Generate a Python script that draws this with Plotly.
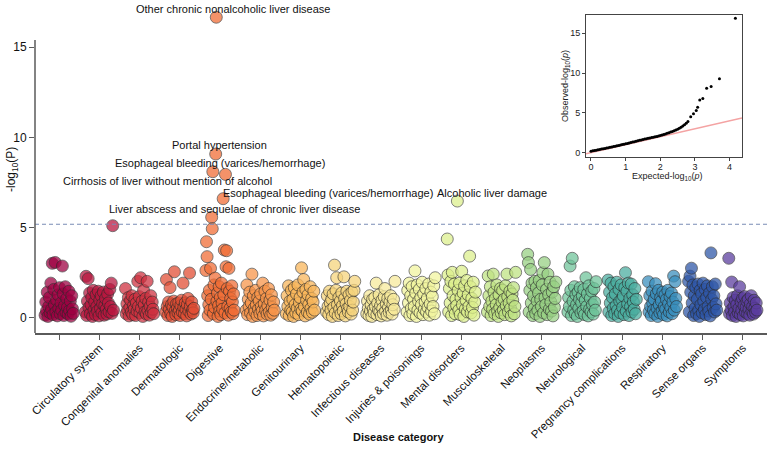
import plotly.graph_objects as go

# ---------------- data ----------------
tick_labels = ["", "Circulatory system", "Congenital anomalies", "Dermatologic", "Digestive",
               "Endocrine/metabolic", "Genitourinary", "Hematopoietic", "Infectious diseases",
               "Injuries & poisonings", "Mental disorders", "Musculoskeletal", "Neoplasms",
               "Neurological", "Pregnancy complications", "Respiratory", "Sense organs", "Symptoms"]

colors = ["#9E0142", "#B8173F", "#CF3140", "#E24E34", "#F16D35", "#F8954A", "#F9B65A", "#F6D47C",
          "#F8EA9A", "#F2F59F", "#DDF08D", "#BFE383", "#98D184", "#6FC49A", "#4BAEA0", "#3A8FBD",
          "#2F57A8", "#5B3D9F"]

vals_unlabelled = [0.12,0.85,0.35,1.4,0.05,0.6,1.1,0.25,1.9,0.45,3.0,0.15,1.55,0.7,3.05,0.3,0.95,0.08,1.25,0.5,
                   1.65,0.2,0.8,0.4,2.85,1.3,0.1,0.65,1.7,0.28,1.05,0.55,0.18,1.45,0.38,0.9,0.06,1.2,0.48,0.22]
vals_circulatory = [0.3,2.28,0.1,0.9,2.15,0.55,1.35,0.2,0.7,1.1,0.05,1.5,0.4,0.85,0.15,1.25,0.6,0.35,1.45,0.08,
                    0.95,0.5,1.2,0.25,0.75,1.4,0.12,0.65,1.05,0.45,0.18,1.3,0.8,0.3,1.55,0.6,1.9,0.22,5.09,0.4]
vals_congenital = [1.6,0.2,0.75,0.4,1.1,0.08,0.55,0.95,0.3,1.2,0.15,0.65,0.45,1.0,0.1,0.8,0.35,2.0,0.6,1.15,
                   0.25,2.2,0.5,0.9,0.05,1.5,0.7,0.3,1.05,0.18,2.0,0.4,0.85,0.12,0.6,1.2,0.28,0.85,0.45,0.2]
vals_dermatologic = [0.3,2.1,0.6,0.1,0.85,0.45,1.65,0.2,0.7,0.05,0.55,0.9,2.53,0.35,0.15,0.75,0.5,0.25,0.8,0.4,
                     0.1,0.65,0.95,0.3,1.9,0.55,0.2,0.8,0.45,0.08,0.7,1.05,0.35,2.46,0.6,0.18,0.85,0.4,0.25,0.5]
vals_digestive = [2.6,4.2,3.37,1.2,0.1,0.7,1.5,0.4,2.72,1.0,5.56,4.92,8.09,0.2,1.8,0.55,2.18,9.07,16.67,0.9,
                  1.35,0.05,0.65,1.7,0.35,1.1,0.15,1.9,0.8,0.45,6.59,1.25,3.74,0.25,7.94,2.81,3.7,1.6,0.6,0.12,
                  2.72,1.45,0.5,1.05,0.3,1.75,0.85,0.2,1.3,0.4]
vals_endocrine = [0.4,1.8,0.15,1.0,0.6,1.4,0.25,0.8,2.4,0.05,1.2,0.5,0.3,1.5,0.7,0.1,1.1,0.45,0.9,0.2,
                  1.3,0.6,0.35,1.9,0.08,0.75,1.45,0.4,1.05,0.18,0.65,1.6,0.3,0.95,0.12,1.25,0.55,0.22,0.85,0.4]
vals_genitourinary = [0.2,1.2,0.6,1.75,0.1,0.9,0.4,1.5,0.3,1.0,0.05,1.65,0.7,0.25,1.3,0.5,1.8,0.15,0.8,1.1,
                      0.45,2.75,0.35,1.4,2.1,0.6,0.08,1.55,0.95,0.3,1.25,0.7,0.18,1.7,0.5,1.05,0.28,0.85,1.45,0.4]
vals_hematopoietic = [0.3,1.2,0.6,0.15,1.45,0.8,0.4,1.0,0.05,1.3,0.55,2.9,0.25,1.5,2.2,0.7,0.1,1.1,0.45,0.9,
                      0.2,1.35,0.65,0.35,2.25,1.05,0.08,0.75,1.45,0.5,0.3,1.25,0.6,0.95,0.18,1.4,0.4,0.85,1.5,2.0]
vals_infectious = [0.2,0.9,0.5,0.1,1.2,0.35,0.7,0.05,1.0,0.45,0.25,1.1,0.6,1.9,0.15,0.8,0.4,1.25,0.3,0.65,
                   0.08,0.95,0.5,0.2,1.15,1.6,0.35,0.75,0.12,1.05,0.55,0.28,0.85,1.2,0.4,0.18,0.7,1.0,0.45,2.0]
vals_injuries = [0.3,1.5,0.8,1.9,0.1,1.2,0.5,1.7,0.2,1.0,0.6,2.58,1.35,0.05,1.8,0.4,0.9,1.55,0.25,1.1,
                 0.7,1.95,0.15,1.3,0.45,0.85,1.6,0.3,1.05,0.55,1.85,0.12,0.75,1.4,0.35,1.15,0.6,1.75,0.2,2.2]
vals_mental = [4.35,2.35,0.3,1.6,0.8,2.0,0.1,2.5,1.2,0.5,1.85,0.2,1.0,0.65,6.46,1.5,0.4,1.9,0.15,1.1,
               2.56,0.7,1.35,0.05,1.75,0.45,0.95,2.05,0.3,1.25,0.6,3.4,1.7,0.25,1.05,0.55,1.95,0.12,0.85,1.4]
vals_musculoskeletal = [0.3,2.3,1.2,0.6,1.7,0.1,0.9,0.45,2.4,1.4,0.2,1.05,0.7,1.8,0.35,0.05,1.25,0.55,1.6,0.25,
                        0.85,1.5,0.4,1.0,0.15,1.75,0.65,2.4,1.15,0.3,0.8,1.45,0.5,0.08,1.3,0.95,1.65,0.2,0.6,2.5]
vals_neoplasms = [3.5,3.04,0.3,1.5,2.66,0.8,1.9,0.1,1.2,0.5,2.0,0.2,1.65,0.9,0.4,1.35,2.05,0.05,1.0,0.6,
                  1.8,2.48,0.25,3.04,1.1,0.7,1.55,0.15,2.4,1.25,0.45,1.95,0.85,0.35,1.4,0.08,1.7,0.55,1.05,1.96]
vals_neurological = [0.3,1.1,0.6,2.85,1.5,0.1,3.28,0.9,0.4,1.7,0.2,1.25,0.7,0.05,1.4,0.5,1.0,1.65,0.25,0.8,
                     1.2,0.35,1.55,0.15,0.95,2.2,0.6,1.3,0.08,1.75,0.45,1.05,0.3,1.45,0.7,0.18,1.6,0.85,0.4,1.98]
vals_pregnancy = [2.07,0.3,1.4,0.8,1.9,0.1,1.1,0.5,1.7,0.2,1.3,0.65,1.95,0.4,0.05,1.55,0.9,0.25,1.8,1.0,
                  0.55,1.2,0.15,1.65,2.48,0.35,1.45,0.75,1.9,0.1,1.05,0.6,1.85,0.3,1.25,0.85,0.45,1.6,0.2,1.0]
vals_respiratory = [1.98,0.3,1.2,0.6,0.1,1.45,0.8,0.4,1.0,0.2,1.87,1.3,0.5,0.05,1.5,0.7,0.25,1.1,0.9,0.35,
                    1.4,0.15,0.6,1.25,0.45,1.0,0.08,1.5,0.75,0.3,1.15,0.55,1.35,0.2,0.85,2.29,0.4,1.98,1.05,0.6]
vals_sense = [2.0,0.3,2.29,1.4,2.73,0.8,1.8,0.1,1.2,0.5,1.65,0.2,1.0,1.85,0.4,0.05,1.5,0.7,1.3,0.25,
              1.9,0.9,0.45,1.55,0.15,1.1,1.75,0.6,0.35,1.35,0.08,3.58,1.0,1.7,0.55,1.2,0.3,1.85,0.75,0.4]
vals_symptoms = [3.28,0.2,0.8,0.4,1.96,0.1,1.1,0.6,0.3,0.95,0.05,0.7,1.2,0.25,0.5,1.7,0.15,0.85,0.4,1.05,
                 0.08,0.65,1.15,0.3,0.55,0.9,0.2,1.0,0.45,0.12,0.75,1.2,0.35,0.6,0.18,0.95,0.5,0.28,0.8,0.4]

series = [vals_unlabelled, vals_circulatory, vals_congenital, vals_dermatologic, vals_digestive,
          vals_endocrine, vals_genitourinary, vals_hematopoietic, vals_infectious, vals_injuries,
          vals_mental, vals_musculoskeletal, vals_neoplasms, vals_neurological, vals_pregnancy,
          vals_respiratory, vals_sense, vals_symptoms]

threshold = 5.17

hit_labels = ["Other chronic nonalcoholic liver disease", "Portal hypertension",
              "Esophageal bleeding (varices/hemorrhage)", "Cirrhosis of liver without mention of alcohol",
              "Esophageal bleeding (varices/hemorrhage)", "Liver abscess and sequelae of chronic liver disease",
              "Alcoholic liver damage"]
hit_category = [4, 4, 4, 4, 4, 4, 10]
hit_values = [16.67, 9.07, 8.09, 7.94, 6.59, 5.56, 6.46]
hit_shift = [(17, 8), (4, 9), (7, 9), (-58, -7), (105, 6), (23, 8), (35, 8)]

qq_expected = [0.00,0.05,0.10,0.15,0.20,0.25,0.30,0.35,0.40,0.45,0.50,0.55,0.60,0.65,0.70,0.75,0.80,0.85,0.90,0.95,
               1.00,1.05,1.10,1.15,1.20,1.25,1.30,1.35,1.40,1.45,1.50,1.55,1.60,1.65,1.70,1.75,1.80,1.85,1.90,1.95,
               2.00,2.05,2.10,2.15,2.20,2.25,2.30,2.35,2.40,2.45,2.50,2.55,2.60,2.65,2.70,2.75,2.80,
               2.88,2.96,3.04,3.08,3.14,3.23,3.34,3.47,3.71,4.17]
qq_observed = [0.18,0.22,0.27,0.31,0.36,0.40,0.45,0.49,0.53,0.58,0.62,0.67,0.72,0.76,0.81,0.86,0.91,0.96,1.01,1.06,
               1.11,1.16,1.22,1.27,1.33,1.38,1.44,1.49,1.55,1.60,1.65,1.70,1.75,1.80,1.84,1.89,1.94,1.99,2.04,2.09,
               2.15,2.21,2.28,2.35,2.42,2.50,2.58,2.66,2.75,2.85,2.95,3.07,3.20,3.34,3.50,3.68,3.90,
               4.5,4.9,5.3,5.7,6.6,6.8,8.1,8.3,9.3,16.9]
qq_line = [-0.145, 4.36]

# ---------------- figure ----------------
FONT = "Liberation Sans, Arial, sans-serif"
SPREAD = 0.7


def xpos(k, i, n):
    return k + (i / (n - 1) - 0.5) * SPREAD


def px_x(p):
    return (p - 35) / 732


def px_y(p):
    return (333 - p) / 321


fig = go.Figure()
for k, (vals, col) in enumerate(zip(series, colors)):
    n = len(vals)
    fig.add_trace(go.Scatter(
        x=[xpos(k, i, n) for i in range(n)], y=vals, mode="markers",
        marker=dict(size=12, color=col, opacity=0.74, line=dict(color="#2a2a2a", width=0.8)),
        cliponaxis=False, hoverinfo="skip", showlegend=False))

# QQ inset
fig.add_trace(go.Scatter(x=qq_line, y=qq_line, mode="lines", line=dict(color="#F4A3A3", width=1.5),
                         xaxis="x2", yaxis="y2", hoverinfo="skip", showlegend=False))
fig.add_trace(go.Scatter(x=qq_expected, y=qq_observed, mode="markers",
                         marker=dict(size=3, color="black"),
                         xaxis="x2", yaxis="y2", hoverinfo="skip", showlegend=False))

annotations = []
for lab, c, v, (dx, dy) in zip(hit_labels, hit_category, hit_values, hit_shift):
    vals = series[c]
    i = vals.index(v)
    annotations.append(dict(x=xpos(c, i, len(vals)), y=v, xref="x", yref="y", text=lab,
                            showarrow=False, xshift=dx, yshift=dy, xanchor="center", yanchor="middle",
                            font=dict(size=11, color="#111", family=FONT)))

annotations += [
    dict(x=px_x(12), y=px_y(170), xref="paper", yref="paper", text="-log<sub>10</sub>(P)",
         textangle=-90, showarrow=False, xanchor="center", yanchor="middle",
         font=dict(size=12, color="#111", family=FONT)),
    dict(x=px_x(398), y=px_y(437), xref="paper", yref="paper", text="<b>Disease category</b>",
         showarrow=False, xanchor="center", yanchor="middle",
         font=dict(size=11, color="#111", family=FONT)),
    dict(x=px_x(565), y=px_y(86), xref="paper", yref="paper",
         text="Observed-log<sub>10</sub>(<i>p</i>)", textangle=-90, showarrow=False,
         xanchor="center", yanchor="middle", font=dict(size=9, color="#222", family=FONT)),
    dict(x=px_x(667), y=px_y(177), xref="paper", yref="paper",
         text="Expected-log<sub>10</sub>(<i>p</i>)", showarrow=False,
         xanchor="center", yanchor="middle", font=dict(size=9, color="#222", family=FONT)),
]

shapes = [
    dict(type="line", xref="paper", yref="y", x0=0, x1=1, y0=threshold, y1=threshold,
         line=dict(color="#7A8CB5", width=1, dash="4px,3px")),
    dict(type="line", xref="paper", yref="y", x0=0, x1=0, y0=-0.87, y1=15.4,
         line=dict(color="#5a5a5a", width=1.5)),
]

fig.update_layout(
    width=772, height=449,
    margin=dict(l=35, r=5, t=12, b=116, autoexpand=False),
    plot_bgcolor="white", paper_bgcolor="white",
    font=dict(family=FONT, color="#111"),
    xaxis=dict(range=[-0.6, 17.6], tickmode="array", tickvals=list(range(len(tick_labels))),
               ticktext=tick_labels, tickangle=-45, showgrid=False, zeroline=False, automargin=False,
               showline=True, linecolor="#5a5a5a", linewidth=1.5, ticks="outside", ticklen=5,
               tickcolor="#5a5a5a", tickwidth=1, ticklabelstandoff=-3,
               tickfont=dict(size=11.5, color="#111")),
    yaxis=dict(range=[-0.87, 16.96], tickvals=[0, 5, 10, 15], showgrid=False, zeroline=False,
               automargin=False, showline=False, ticks="outside", ticklen=5, tickcolor="#5a5a5a",
               tickwidth=1, tickfont=dict(size=12, color="#111")),
    xaxis2=dict(domain=[0.7527, 0.9658], anchor="y2", range=[-0.145, 4.36], tickvals=[0, 1, 2, 3, 4],
                showgrid=False, zeroline=False, showline=True, mirror=True, linecolor="#444", linewidth=1,
                automargin=False, ticks="outside", ticklen=3, tickcolor="#444", ticklabelstandoff=-2,
                tickfont=dict(size=9, color="#222")),
    yaxis2=dict(domain=[0.5483, 0.9907], anchor="x2", range=[-0.55, 17.3], tickvals=[0, 5, 10, 15],
                showgrid=False, zeroline=False, showline=True, mirror=True, linecolor="#444", linewidth=1,
                automargin=False, ticks="outside", ticklen=3, tickcolor="#444",
                tickfont=dict(size=9, color="#222")),
    annotations=annotations,
    shapes=shapes,
)

# remove the browser's default 8px page margin so the figure sits at the window's corner
fig.write_html("out.html", config={"displayModeBar": False},
               post_script="document.body.style.margin='0px';")
